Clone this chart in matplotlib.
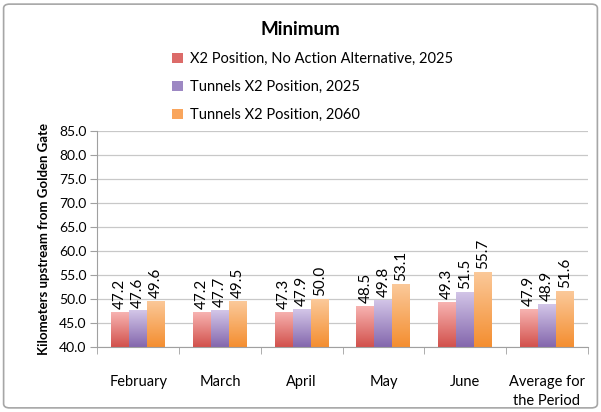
import numpy as np
import matplotlib
matplotlib.use("Agg")
import matplotlib.pyplot as plt
from matplotlib.patches import FancyBboxPatch
from matplotlib.colors import LinearSegmentedColormap

# data
months = ["February", "March", "April", "May", "June", "Average for\nthe Period"]
series_names = ["X2 Position, No Action Alternative, 2025",
                "Tunnels X2 Position, 2025",
                "Tunnels X2 Position, 2060"]
no_action_2025 = [47.2, 47.2, 47.3, 48.5, 49.3, 47.9]
tunnels_2025 = [47.6, 47.7, 47.9, 49.8, 51.5, 48.9]
tunnels_2060 = [49.6, 49.5, 50.0, 53.1, 55.7, 51.6]

# (bottom colour, top colour, legend colour)
colors = [("#d2514c", "#f7b3b1", "#dc6b69"),
          ("#8467ad", "#d3c6e8", "#9d88c3"),
          ("#f48e30", "#fbc99a", "#f9a55c")]

plt.rcParams['font.family'] = ['Lato', 'DejaVu Sans']

fig = plt.figure(figsize=(6.01, 4.12), dpi=100)
# outer border
fig.patches.append(FancyBboxPatch((0.006, 0.01), 0.988, 0.98, boxstyle="round,pad=0,rounding_size=0.01",
                                  transform=fig.transFigure, fill=False, ec="#a6a6a6", lw=1.2))

ax = fig.add_axes([0.162, 0.158, 0.816, 0.524])
x = np.arange(len(months))
w = 0.22
ymin, ymax = 40, 85
all_vals = [no_action_2025, tunnels_2025, tunnels_2060]
grad = np.linspace(0, 1, 100).reshape(-1, 1)

for i, vals in enumerate(all_vals):
    bot, top, leg = colors[i]
    cmap = LinearSegmentedColormap.from_list("g%d" % i, [bot, top])
    bars = ax.bar(x + (i - 1) * w, np.array(vals) - ymin, w, bottom=ymin, color=leg,
                  label=series_names[i], zorder=2)
    for b, v in zip(bars, vals):
        x0 = b.get_x()
        im = ax.imshow(grad, extent=[x0, x0 + b.get_width(), ymin, v], origin="lower",
                       cmap=cmap, aspect="auto", zorder=2.5)
        im.set_clip_path(b)
        ax.text(x0 + b.get_width() / 2, v + 0.6, "%.1f" % v, rotation=90, ha="center",
                va="bottom", fontsize=11, color="black", zorder=3)

ax.set_xlim(-0.5, len(months) - 0.5)
ax.set_ylim(ymin, ymax)
ax.set_yticks(np.arange(40, 86, 5))
ax.set_yticklabels(["%.1f" % t for t in np.arange(40, 86, 5)], fontsize=10)
ax.set_xticks(x)
ax.set_xticklabels(months, fontsize=10.5, linespacing=1.5)
ax.set_xticks(np.arange(-0.5, len(months), 1), minor=True)
ax.tick_params(axis="x", which="major", length=0, pad=20)
ax.tick_params(axis="x", which="minor", length=5, color="#a0a0a0")
ax.tick_params(axis="y", length=5, color="#a0a0a0", pad=3)
ax.grid(axis="y", color="#c8c8c8", lw=0.9, zorder=0)
for s in ["top", "right"]:
    ax.spines[s].set_visible(False)
for s in ["left", "bottom"]:
    ax.spines[s].set_color("#a0a0a0")
ax.set_ylabel("Kilometers upstream from Golden Gate", fontsize=9.5, fontweight="bold", labelpad=6)

fig.text(0.5, 0.928, "Minimum", ha="center", va="center", fontsize=13.5, fontweight="bold")
handles, labels = ax.get_legend_handles_labels()
fig.legend(handles, labels, loc="upper left", bbox_to_anchor=(0.265, 0.905), frameon=False,
           fontsize=10.5, handlelength=0.7, handleheight=0.7, handletextpad=0.5, labelspacing=0.95)

fig.savefig("out.png", dpi=100)
